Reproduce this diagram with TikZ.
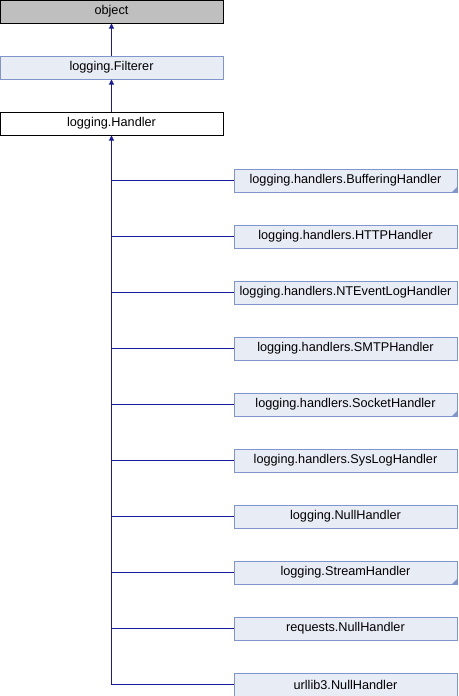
\documentclass[tikz,border=0pt]{standalone}
\usepackage{fontspec}
\setmainfont{Liberation Sans}
\usetikzlibrary{arrows.meta}
\definecolor{edgeblue}{HTML}{1A1A9E}
\definecolor{classfill}{HTML}{E8ECF5}
\definecolor{classline}{HTML}{7F95CB}
\definecolor{rootfill}{HTML}{BFBFBF}
\tikzset{
  cls/.style={draw=classline, fill=classfill, line width=1pt, minimum width=223pt,
    minimum height=23pt, inner sep=0pt, font=\fontsize{12.7}{14}\selectfont},
  edge/.style={draw=edgeblue, line width=1pt},
  inh/.style={edge, {Triangle[length=5pt,width=5pt]}-},
  more/.style={fill=classline}
}

\begin{document}
\begin{tikzpicture}[x=1pt,y=-1pt]
  \useasboundingbox (0,0) rectangle (458,696);
  % base classes
  \node[cls, draw=black, fill=rootfill] (object) at (111.5,11.5) {object};
  \node[cls] (filterer) at (111.5,67.5) {logging.Filterer};
  \node[cls, draw=black, fill=white] (handler) at (111.5,123.5) {logging.Handler};
  \draw[inh] (object.south) -- (filterer.north);
  \draw[inh] (filterer.south) -- (handler.north);
  % derived classes
  \node[cls] (buffering) at (345.5,180.5) {logging.handlers.BufferingHandler};
  \node[cls] (http) at (345.5,236.5) {logging.handlers.HTTPHandler};
  \node[cls] (ntevent) at (345.5,292.5) {logging.handlers.NTEventLogHandler};
  \node[cls] (smtp) at (345.5,348.5) {logging.handlers.SMTPHandler};
  \node[cls] (socket) at (345.5,404.5) {logging.handlers.SocketHandler};
  \node[cls] (syslog) at (345.5,460.5) {logging.handlers.SysLogHandler};
  \node[cls] (lognull) at (345.5,516.5) {logging.NullHandler};
  \node[cls] (stream) at (345.5,572.5) {logging.StreamHandler};
  \node[cls] (reqnull) at (345.5,628.5) {requests.NullHandler};
  \node[cls] (urlnull) at (345.5,684.5) {urllib3.NullHandler};
  % classes with more children
  \fill[more] (buffering.south east) -- ++(-6,0) -- ++(6,-6) -- cycle;
  \fill[more] (socket.south east) -- ++(-6,0) -- ++(6,-6) -- cycle;
  \fill[more] (stream.south east) -- ++(-6,0) -- ++(6,-6) -- cycle;
  % inheritance lines
  \draw[inh] (handler.south) |- (buffering.west);
  \draw[edge] (handler.south) |- (http.west);
  \draw[edge] (handler.south) |- (ntevent.west);
  \draw[edge] (handler.south) |- (smtp.west);
  \draw[edge] (handler.south) |- (socket.west);
  \draw[edge] (handler.south) |- (syslog.west);
  \draw[edge] (handler.south) |- (lognull.west);
  \draw[edge] (handler.south) |- (stream.west);
  \draw[edge] (handler.south) |- (reqnull.west);
  \draw[edge] (handler.south) |- (urlnull.west);
\end{tikzpicture}
\end{document}
